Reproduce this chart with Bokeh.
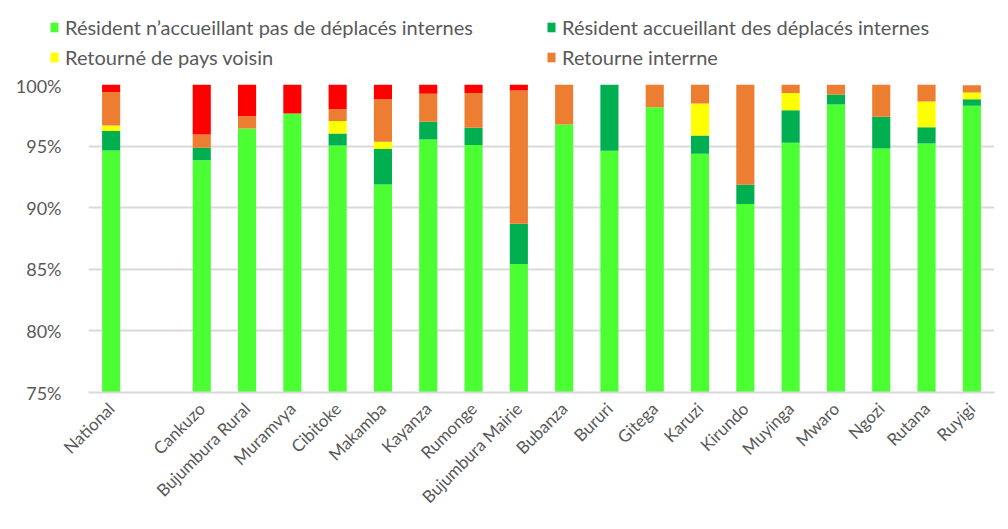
from bokeh.plotting import figure
from bokeh.layouts import column, row
from bokeh.models import Legend, LegendItem, PrintfTickFormatter, FixedTicker
from bokeh.embed import file_html
from bokeh.resources import INLINE
import math

cats = ["National", " ", "Cankuzo", "Bujumbura Rural", "Muramvya", "Cibitoke", "Makamba",
        "Kayanza", "Rumonge", "Bujumbura Mairie", "Bubanza", "Bururi", "Gitega", "Karuzi",
        "Kirundo", "Muyinga", "Mwaro", "Ngozi", "Rutana", "Ruyigi"]

res_sans = [94.65, 0, 93.86, 96.43, 97.65, 95.05, 91.89, 95.54, 95.08, 85.43, 96.76, 94.62,
            98.16, 94.38, 90.30, 95.27, 98.38, 94.81, 95.22, 98.27]
res_acc = [1.57, 0, 1.00, 0, 0, 0.98, 2.87, 1.43, 1.41, 3.27, 0, 5.38, 0, 1.48, 1.56, 2.65,
           0.81, 2.57, 1.32, 0.54]
ret_pays = [0.46, 0, 0, 0, 0, 1.00, 0.59, 0, 0, 0, 0, 0, 0, 2.60, 0, 1.38, 0, 0, 2.08, 0.54]
ret_int = [2.72, 0, 1.09, 1.00, 0, 0.97, 3.46, 2.27, 2.81, 10.81, 3.24, 0, 1.84, 1.54, 8.14,
           0.70, 0.81, 2.62, 1.38, 0.59]
autre = [0.60, 0, 4.05, 2.57, 2.35, 2.00, 1.19, 0.76, 0.70, 0.49, 0, 0, 0, 0, 0, 0, 0, 0, 0, 0]

series = ["res_sans", "res_acc", "ret_pays", "ret_int", "autre"]
labels = ["Résident n’accueillant pas de déplacés internes",
          "Résident accueillant des déplacés internes",
          "Retourné de pays voisin",
          "Retourne interrne"]
colors = ["#4BFF33", "#00B050", "#FFFF00", "#ED7D31", "#FF0000"]
yticks = [75, 80, 85, 90, 95, 100]

data = dict(cats=cats, res_sans=res_sans, res_acc=res_acc, ret_pays=ret_pays,
            ret_int=ret_int, autre=autre)

FONT = "Lato"
GREY = "#595959"
W, H, TOP_H = 1008, 529, 74

# ---- legend strip on top ----
top = figure(width=W, height=TOP_H, output_backend="svg", toolbar_location=None,
             x_range=(0, 1), y_range=(0, 1), x_axis_location=None, y_axis_location=None,
             min_border=0)
top.outline_line_color = None
top.xgrid.grid_line_color = None
top.ygrid.grid_line_color = None
# legend swatches only (zero-height, nothing drawn in the strip itself)
swatch = [top.vbar(x=[0.5], top=[0], bottom=[0], width=0.1, fill_color=c, line_color=None)
          for c in colors[:4]]

def mk_legend(items, loc):
    return Legend(items=items, location=loc, orientation="vertical",
                  label_text_font=FONT, label_text_font_size="20px",
                  label_text_color=GREY, glyph_width=10, glyph_height=12,
                  label_height=22, spacing=6, padding=0, margin=0,
                  label_standoff=6, border_line_color=None, background_fill_alpha=0)

top.add_layout(mk_legend([LegendItem(label=labels[0], renderers=[swatch[0]]),
                          LegendItem(label=labels[2], renderers=[swatch[2]])], (49, 5)), "center")
top.add_layout(mk_legend([LegendItem(label=labels[1], renderers=[swatch[1]]),
                          LegendItem(label=labels[3], renderers=[swatch[3]])], (546, 5)), "center")

# ---- main chart ----
p = figure(x_range=cats, y_range=(75, 100), width=W, height=H - TOP_H,
           output_backend="svg", toolbar_location=None,
           min_border_left=88, min_border_right=14, min_border_top=84 - TOP_H,
           min_border_bottom=137)
p.outline_line_color = None

p.vbar_stack(series, x="cats", width=0.4, color=colors, line_color=None, source=data)

p.yaxis.ticker = FixedTicker(ticks=yticks)
p.yaxis.formatter = PrintfTickFormatter(format="%d%%")
p.yaxis.axis_line_color = None
p.yaxis.major_tick_line_color = None
p.yaxis.minor_tick_line_color = None
p.yaxis.major_label_text_font = FONT
p.yaxis.major_label_text_font_size = "18px"
p.yaxis.major_label_text_color = GREY
p.yaxis.major_label_standoff = 21

p.xaxis.axis_line_color = "#D9D9D9"
p.xaxis.axis_line_width = 2
p.xaxis.major_tick_line_color = None
p.xaxis.minor_tick_line_color = None
p.xaxis.major_label_orientation = math.pi / 4
p.xaxis.major_label_text_font = FONT
p.xaxis.major_label_text_font_size = "17px"
p.xaxis.major_label_text_color = GREY
p.xaxis.major_label_standoff = 7

p.xgrid.grid_line_color = None
p.ygrid.grid_line_color = "#D9D9D9"
p.ygrid.grid_line_width = 2

layout = column(row(top), p, spacing=0)
open("out.html", "w").write(file_html(layout, INLINE))
